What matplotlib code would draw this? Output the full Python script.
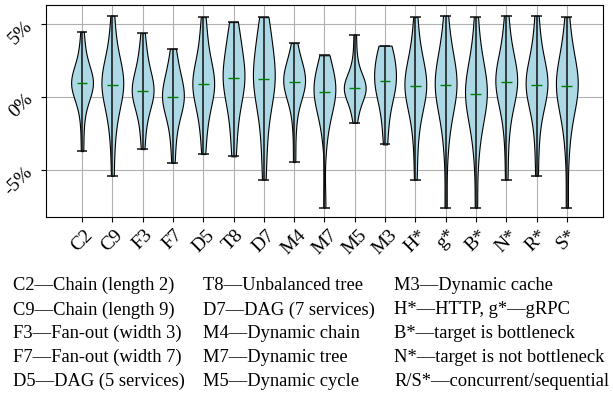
import matplotlib
matplotlib.use("Agg")
import matplotlib.pyplot as plt
import numpy as np

plt.rcParams['font.family'] = ['Liberation Serif', 'DejaVu Serif']

# Benchmark names on the x axis
names = ['C2', 'C9', 'F3', 'F7', 'D5', 'T8', 'D7', 'M4', 'M7', 'M5', 'M3',
         'H*', 'g*', 'B*', 'N*', 'R*', 'S*']

# Relative error samples (%) per benchmark, estimated from the figure
c2 = [-3.7, -1.8, -0.6, 0.1, 0.5, 0.7, 0.8, 0.9, 0.95, 1.0, 1.1, 1.3, 1.5, 1.9, 2.5, 3.3, 4.5]
c9 = [-5.4, -3.0, -1.8, -0.8, -0.2, 0.3, 0.6, 0.8, 0.87, 1.0, 1.2, 1.5, 1.8, 2.2, 2.9, 4.0, 5.6]
f3 = [-3.56, -2.2, -1.3, -0.6, -0.2, 0.1, 0.3, 0.4, 0.43, 0.6, 0.8, 1.1, 1.5, 2.0, 2.6, 3.3, 4.4]
f7 = [-4.5, -3.0, -2.0, -1.3, -0.8, -0.5, -0.3, -0.1, 0.0, 0.2, 0.4, 0.7, 1.0, 1.4, 1.9, 2.5, 3.33]
d5 = [-3.9, -2.4, -1.4, -0.6, -0.1, 0.3, 0.6, 0.8, 0.94, 1.1, 1.3, 1.6, 2.0, 2.6, 3.4, 4.4, 5.5]
t8 = [-4.06, -2.6, -1.4, -0.5, 0.1, 0.5, 0.9, 1.2, 1.35, 1.6, 1.9, 2.3, 2.8, 3.4, 4.0, 4.6, 5.16]
d7 = [-5.66, -3.5, -2.0, -0.8, 0.0, 0.5, 0.9, 1.1, 1.26, 1.5, 1.9, 2.4, 3.0, 3.6, 4.3, 4.9, 5.5]
m4 = [-4.45, -2.2, -0.8, -0.1, 0.3, 0.6, 0.8, 0.95, 1.07, 1.2, 1.35, 1.5, 1.7, 2.0, 2.4, 3.0, 3.72]
m7 = [-7.58, -3.0, -1.8, -1.0, -0.5, -0.1, 0.1, 0.25, 0.34, 0.5, 0.7, 0.9, 1.2, 1.5, 1.9, 2.4, 2.88]
m5 = [-1.76, -1.0, -0.5, -0.1, 0.2, 0.4, 0.5, 0.58, 0.62, 0.7, 0.85, 1.0, 1.2, 1.5, 2.0, 2.9, 4.3]
m3 = [-3.24, -2.0, -1.0, -0.4, 0.1, 0.5, 0.8, 1.0, 1.14, 1.4, 1.7, 2.0, 2.4, 2.8, 3.1, 3.4, 3.54]
h_ = [-5.66, -3.2, -1.8, -0.8, -0.2, 0.2, 0.5, 0.7, 0.8, 0.95, 1.1, 1.4, 1.8, 2.3, 3.0, 4.0, 5.5]
g_ = [-7.58, -3.5, -2.0, -0.9, -0.2, 0.2, 0.5, 0.7, 0.87, 1.0, 1.2, 1.5, 1.9, 2.4, 3.1, 4.2, 5.6]
b_ = [-7.58, -4.0, -2.6, -1.6, -0.9, -0.4, -0.1, 0.1, 0.2, 0.4, 0.7, 1.0, 1.4, 1.9, 2.6, 3.7, 5.5]
n_ = [-5.66, -3.0, -1.5, -0.5, 0.1, 0.5, 0.8, 0.95, 1.05, 1.2, 1.4, 1.7, 2.0, 2.5, 3.2, 4.3, 5.6]
r_ = [-5.39, -3.0, -1.6, -0.6, 0.0, 0.4, 0.6, 0.75, 0.87, 1.0, 1.2, 1.5, 1.9, 2.4, 3.1, 4.2, 5.6]
s_ = [-7.58, -3.6, -2.0, -0.9, -0.2, 0.2, 0.5, 0.7, 0.8, 0.95, 1.1, 1.4, 1.8, 2.3, 3.0, 4.1, 5.5]
samples = [c2, c9, f3, f7, d5, t8, d7, m4, m7, m5, m3, h_, g_, b_, n_, r_, s_]

# Legend text below the plot, one list per column
legend_cols = [
    ['C2\u2014Chain (length 2)', 'C9\u2014Chain (length 9)', 'F3\u2014Fan-out (width 3)',
     'F7\u2014Fan-out (width 7)', 'D5\u2014DAG (5 services)'],
    ['T8\u2014Unbalanced tree', 'D7\u2014DAG (7 services)', 'M4\u2014Dynamic chain',
     'M7\u2014Dynamic tree', 'M5\u2014Dynamic cycle'],
    ['M3\u2014Dynamic cache', 'H*\u2014HTTP, g*\u2014gRPC', 'B*\u2014target is bottleneck',
     'N*\u2014target is not bottleneck', 'R/S*\u2014concurrent/sequential'],
]
ytick_vals = [-5, 0, 5]
ytick_text = ['-5%', '0%', '5%']

fig = plt.figure(figsize=(6.13, 4.04), dpi=100)
ax = fig.add_axes([0.075, 0.463, 0.909, 0.525])

pos = np.arange(1, len(names) + 1)
vp = ax.violinplot(samples, positions=pos, widths=0.72, showmedians=True)
for body in vp['bodies']:
    body.set_facecolor('lightblue')
    body.set_edgecolor('black')
    body.set_alpha(1)
    body.set_linewidth(0.8)
for key in ['cbars', 'cmins', 'cmaxes']:
    vp[key].set_color('#111111')
    vp[key].set_linewidth(1.1)
vp['cmedians'].set_color('green')
vp['cmedians'].set_linewidth(1.0)

ax.set_xlim(-0.19, 18.2)
ax.set_ylim(-8.22, 6.34)
ax.set_xticks(pos)
ax.set_xticklabels(names, rotation=45, fontsize=14)
ax.set_yticks(ytick_vals)
ax.set_yticklabels(ytick_text, rotation=45, fontsize=14)
ax.grid(True, color='#b0b0b0', linewidth=0.8)
ax.set_axisbelow(True)

col_x = [13, 203, 394]
row_y = [285, 310, 333, 357, 381]
for cx, col in zip(col_x, legend_cols):
    for ry, txt in zip(row_y, col):
        fig.text(cx / 613, 1 - ry / 404, txt, fontsize=13.3, va='center', ha='left')

fig.savefig('out.png', dpi=100)
